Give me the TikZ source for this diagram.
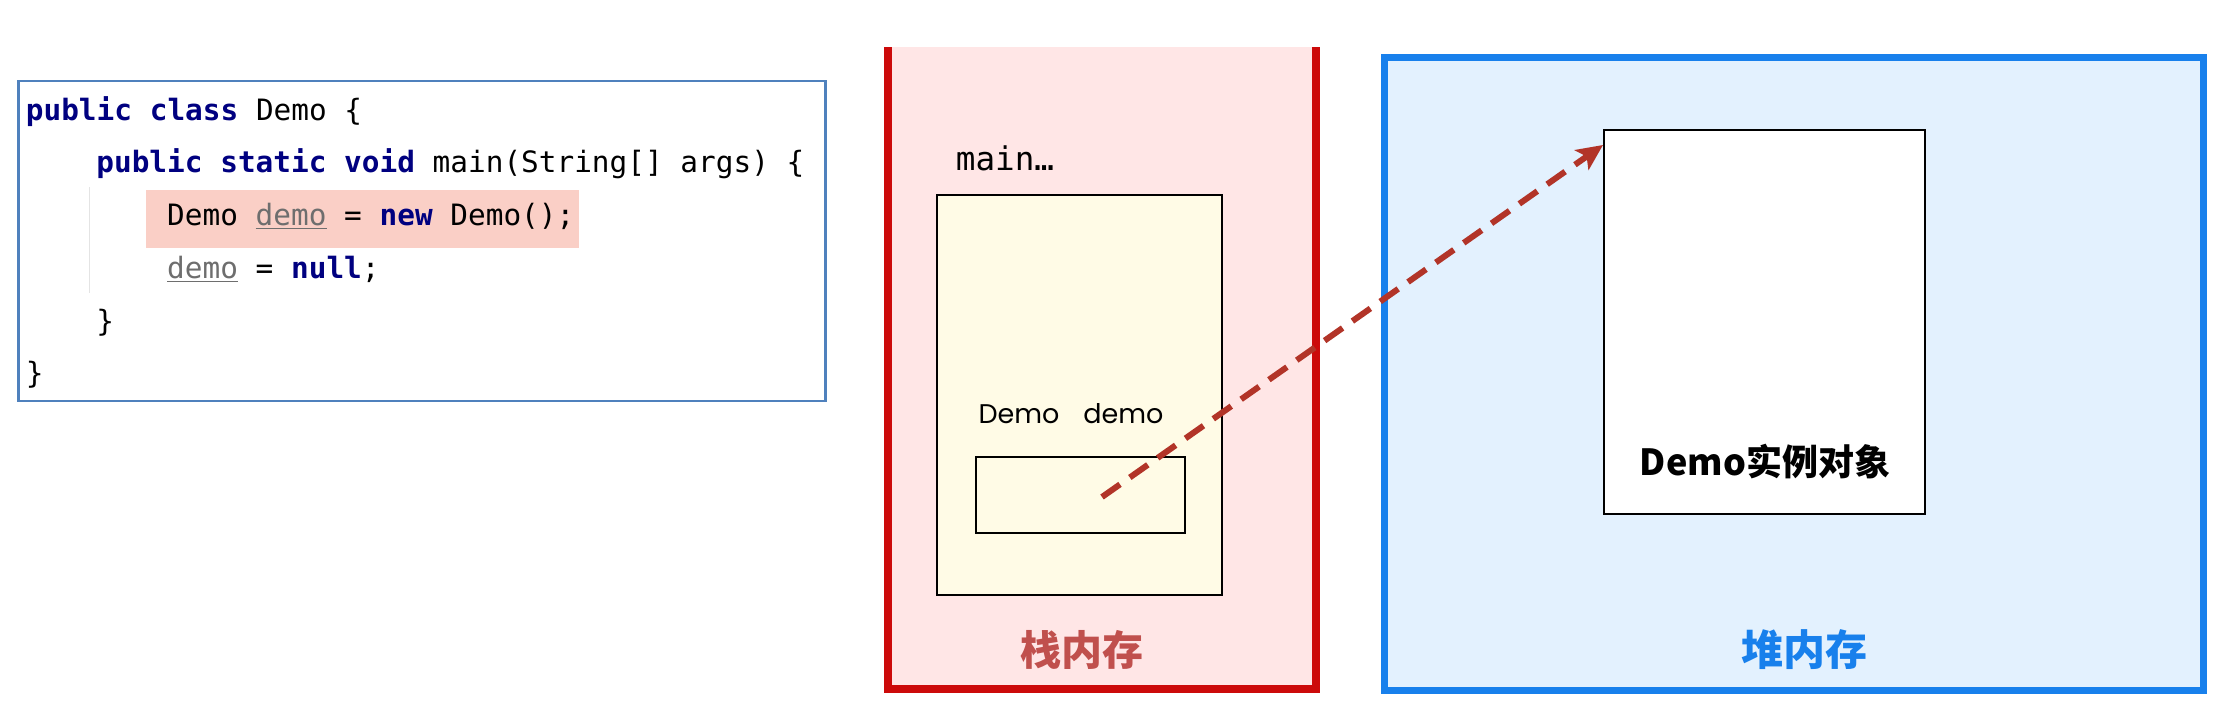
\documentclass[tikz,border=0pt]{standalone}
\usepackage{fontspec}
\usetikzlibrary{arrows.meta}
\newfontfamily\codefont{DejaVu Sans Mono}
\newfontfamily\cjkfont{Noto Sans CJK SC}
\newfontfamily\geofont{Poppins}
\definecolor{codeborder}{RGB}{79,129,189}
\definecolor{hilite}{RGB}{250,207,198}
\definecolor{kwnavy}{RGB}{0,0,128}
\definecolor{vargray}{RGB}{110,110,110}
\definecolor{guidegray}{RGB}{228,228,228}
\definecolor{stackred}{RGB}{204,10,10}
\definecolor{stackfill}{RGB}{255,230,230}
\definecolor{framefill}{RGB}{255,251,230}
\definecolor{heapblue}{RGB}{24,128,236}
\definecolor{heapfill}{RGB}{227,241,254}
\definecolor{arrowred}{RGB}{178,52,40}
\definecolor{stacklabel}{RGB}{192,80,77}
\newcommand\kwd[1]{\textcolor{kwnavy}{\bfseries #1}}
\newcommand\vrb[1]{\textcolor{vargray}{\underline{#1}}}
\begin{document}
\begin{tikzpicture}[x=0.5pt,y=-0.5pt,
  codeline/.style={anchor=base west,inner sep=0pt,font=\codefont\fontsize{14.7}{16}\selectfont},
  boxnode/.style={anchor=north west,inner sep=0pt,outer sep=0pt},
  ptr/.style={draw=arrowred,line width=3pt,dash pattern=on 11pt off 6pt,
    -{Stealth[length=13pt,width=12pt,inset=3pt]}},
  cjklabel/.style={inner sep=0pt,font=\cjkfont\bfseries\fontsize{20.5}{24}\selectfont}]
\useasboundingbox[fill=white] (0,0) rectangle (2232,723);

% ---------- code box ----------
\node[boxnode,draw=codeborder,line width=1.2pt,minimum width=403.5pt,minimum height=160pt] (code) at (18.5,81) {};
\node[boxnode,fill=hilite,minimum width=216.5pt,minimum height=29pt] (hl) at (146,190) {};
\draw[guidegray,line width=0.6pt] (89.7,187) -- (89.7,293);
\node[codeline] (l1) at (25.5,120) {\kwd{public} \kwd{class} Demo \{};
\node[codeline] (l2) at (96,172) {\kwd{public} \kwd{static} \kwd{void} main(String[] args) \{};
\node[codeline] (l3) at (166.8,225) {Demo \vrb{demo} = \kwd{new} Demo();};
\node[codeline] (l4) at (166.8,278) {\vrb{demo} = \kwd{null};};
\node[codeline] (l5) at (96,331) {\}};
\node[codeline] (l6) at (25.5,383) {\}};

% ---------- stack ----------
\fill[stackfill] (887.5,47) rectangle (1315.5,689);
\draw[stackred,line width=4pt] (887.5,47) -- (887.5,689) -- (1315.5,689) -- (1315.5,47);
\node[boxnode,draw=black,fill=framefill,line width=1.3pt,minimum width=142.5pt,minimum height=200pt] (frame) at (937,195) {};
\node[inner sep=0pt,font=\codefont\fontsize{16.3}{18}\selectfont] (mainlbl) at (1005,158) {main…};
\node[inner sep=0pt,font=\geofont\fontsize{13.5}{16}\selectfont] (vars) at (1071,414) {Demo\hspace{12pt}demo};
\node[boxnode,draw=black,line width=1.3pt,minimum width=104.5pt,minimum height=38pt] (slot) at (976,457) {};
\node[cjklabel,text=stacklabel] (stacklbl) at (1082,650) {栈内存};
\coordinate (src) at (1102,497);

% ---------- heap ----------
\node[boxnode,draw=heapblue,fill=heapfill,line width=3.5pt,minimum width=409.5pt,minimum height=316.5pt] (heap) at (1384,57) {};
\node[boxnode,draw=black,fill=white,line width=1.3pt,minimum width=160.5pt,minimum height=192pt] (obj) at (1604,130) {};
\node[inner sep=0pt,font=\cjkfont\bfseries\fontsize{18}{22}\selectfont] (objlbl) at (1765,462) {Demo实例对象};
\node[cjklabel,text=heapblue,font=\cjkfont\bfseries\fontsize{21}{24}\selectfont] (heaplbl) at (1804,650) {堆内存};
\coordinate (dst) at (1603,145);

% ---------- reference arrow ----------
\draw[ptr] (src) -- (dst);
\end{tikzpicture}
\end{document}
